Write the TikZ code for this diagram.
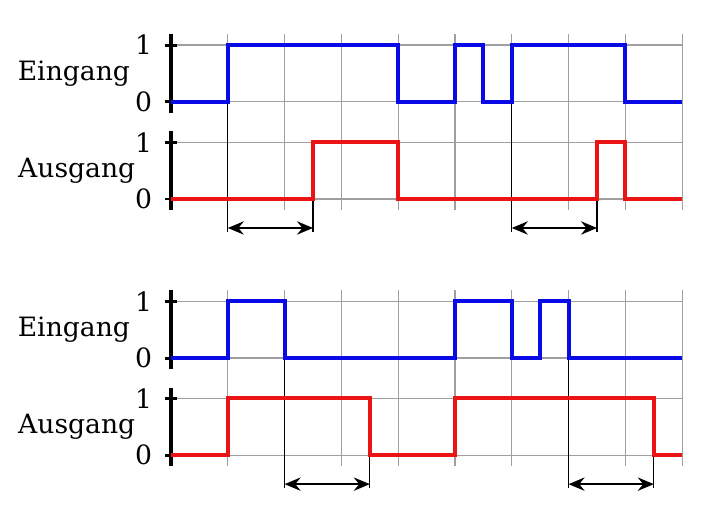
\documentclass[tikz,border=0pt]{standalone}
\usepackage{fontspec}
\setmainfont{DejaVu Serif}
\usepackage{tikz}
\usetikzlibrary{arrows.meta}
\definecolor{sigblue}{RGB}{10,10,230}
\definecolor{sigred}{RGB}{235,20,20}
\tikzstyle{gridline} = [draw, gray!75, line width=0.9pt]
\tikzstyle{axis} = [draw, black, line width=3pt]
\tikzstyle{tick} = [draw, black, line width=2.2pt]
\tikzstyle{eingang} = [draw, sigblue, line width=3pt]
\tikzstyle{ausgang} = [draw, sigred, line width=3pt]
\tikzstyle{marker} = [draw, black, line width=0.9pt]
\tikzstyle{delay} = [draw, {Stealth[length=12pt, width=10pt, inset=4pt]}-{Stealth[length=12pt, width=10pt, inset=4pt]}, line width=1.5pt]

\begin{document}
\begin{tikzpicture}[x=1.5cm, y=1.5cm, font=\fontsize{20}{24}\selectfont]
      \useasboundingbox (-3.011, 0) rectangle (9.507, 9.014);

      % Raster, Achsen und Beschriftung beider Diagramme
      \foreach \dy/\p in {0/unten, 4.51/oben} {
        \begin{scope}[shift={(0,\dy)}]
          \foreach \x in {1,...,9}
            \draw [gridline] (\x, 0.81) -- (\x, 3.90);
          \foreach \y in {1, 2, 2.71, 3.71}
            \draw [gridline] (0, \y) -- (9, \y);

          \draw [axis] (0, 0.81) -- (0, 2.19);
          \draw [axis] (0, 2.52) -- (0, 3.90);
          \foreach \y in {1, 2, 2.71, 3.71}
            \draw [tick] (-0.1, \y) -- (0.1, \y);

          \node[anchor=east, inner sep=0] (eeins\p) at (-0.33, 3.71) {1};
          \node[anchor=east, inner sep=0] (enull\p) at (-0.33, 2.71) {0};
          \node[anchor=east, inner sep=0] (aeins\p) at (-0.33, 2) {1};
          \node[anchor=east, inner sep=0] (anull\p) at (-0.33, 1) {0};
          \node (ein\p) at (-1.71, 3.21) {Eingang};
          \node (aus\p) at (-1.66, 1.5) {Ausgang};
        \end{scope}
      }

      % Einschaltverzoegerung
      \begin{scope}[shift={(0,4.51)}]
        \coordinate (o1) at (1, 0.49);
        \coordinate (o2) at (2.5, 0.49);
        \coordinate (o3) at (6, 0.49);
        \coordinate (o4) at (7.5, 0.49);

        \draw [marker] (1, 2.71) -- (1, 0.42);
        \draw [marker] (2.5, 2) -- (2.5, 0.42);
        \draw [marker] (6, 2.71) -- (6, 0.42);
        \draw [marker] (7.5, 2) -- (7.5, 0.42);

        \draw [eingang] (0, 2.71) -| (1, 3.71) -| (4, 2.71) -| (5, 3.71) -| (5.5, 2.71) -| (6, 3.71) -| (8, 2.71) -- (9, 2.71);
        \draw [ausgang] (0, 1) -| (2.5, 2) -| (4, 1) -| (7.5, 2) -| (8, 1) -- (9, 1);

        \draw [delay] (o1) -- (o2);
        \draw [delay] (o3) -- (o4);
      \end{scope}

      % Ausschaltverzoegerung
      \coordinate (u1) at (2, 0.49);
      \coordinate (u2) at (3.5, 0.49);
      \coordinate (u3) at (7, 0.49);
      \coordinate (u4) at (8.5, 0.49);

      \draw [marker] (2, 2.71) -- (2, 0.42);
      \draw [marker] (3.5, 2) -- (3.5, 0.42);
      \draw [marker] (7, 2.71) -- (7, 0.42);
      \draw [marker] (8.5, 2) -- (8.5, 0.42);

      \draw [eingang] (0, 2.71) -| (1, 3.71) -| (2, 2.71) -| (5, 3.71) -| (6, 2.71) -| (6.5, 3.71) -| (7, 2.71) -- (9, 2.71);
      \draw [ausgang] (0, 1) -| (1, 2) -| (3.5, 1) -| (5, 2) -| (8.5, 1) -- (9, 1);

      \draw [delay] (u1) -- (u2);
      \draw [delay] (u3) -- (u4);
    \end{tikzpicture}
\end{document}
